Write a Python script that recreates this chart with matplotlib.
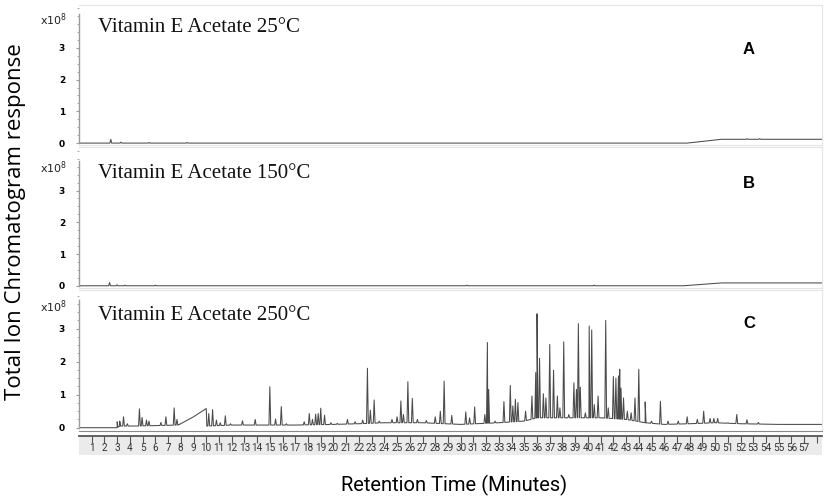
import numpy as np
import matplotlib
matplotlib.use("Agg")
import matplotlib.pyplot as plt
from matplotlib.ticker import MultipleLocator

# retention time axis (minutes)
t_max = 58.4
minute_ticks = list(range(1, 59))
minute_labels = [str(m) for m in range(1, 58)] + [""]

# response in units of 1e8
# panel A, 25 C: baseline (time, value) and peaks (time, height)
base_a_t = [0, 47.8, 50.5, 58.4]
base_a_v = [0.0, 0.0, 0.12, 0.12]
peaks_a_t = [2.5, 3.3, 5.5, 8.5, 52.5, 53.5]
peaks_a_h = [0.12, 0.03, 0.02, 0.02, 0.14, 0.14]

# panel B, 150 C
base_b_t = [0, 47.5, 50.5, 58.4]
base_b_v = [0.0, 0.0, 0.09, 0.09]
peaks_b_t = [2.4, 3.0, 3.6, 6.0, 30.5, 40.5]
peaks_b_h = [0.10, 0.03, 0.02, 0.02, 0.02, 0.02]

# panel C, 250 C
base_c_t = [0, 3.0, 3.2, 4.5, 7.8, 9.0, 10.0, 10.05, 12, 14, 17, 20, 22, 24,
            27, 30, 33, 35, 36, 41, 43, 44.5, 46, 48, 50, 52, 55, 58.4]
base_c_v = [0.0, 0.0, 0.05, 0.05, 0.08, 0.33, 0.58, 0.05, 0.08, 0.08, 0.08,
            0.1, 0.12, 0.15, 0.15, 0.1, 0.15, 0.2, 0.3, 0.3, 0.25, 0.15, 0.1,
            0.12, 0.15, 0.12, 0.1, 0.1]
peaks_c_t = [3.0, 3.2, 3.5, 3.8, 4.75, 4.96, 5.3, 5.5, 6.44, 6.83, 7.48, 7.7,
             10.2, 10.5, 10.8, 11.1, 11.5, 11.9, 12.85, 13.85, 15.0, 15.45,
             15.9, 16.3, 17.7, 18.1, 18.35, 18.6, 18.8, 19.0, 19.3, 19.8,
             20.3, 21.1, 21.7, 22.3, 22.67, 22.9, 23.2, 23.6, 24.6, 25.0,
             25.3, 25.5, 25.85, 26.2, 26.6, 27.3, 28.0, 28.4, 28.7, 29.3,
             30.4, 30.7, 31.1, 31.9, 32.1, 32.2, 32.7, 33.4, 33.9, 34.1,
             34.3, 34.5, 35.1, 35.6, 35.9, 36.0, 36.2, 36.5, 36.7, 37.0,
             37.3, 37.6, 37.8, 38.1, 38.5, 38.9, 39.1, 39.25, 39.4, 39.8,
             40.1, 40.15, 40.3, 40.5, 40.8, 41.4, 41.6, 42.0, 42.2, 42.4,
             42.5, 42.6, 42.8, 43.1, 43.4, 43.7, 44.0, 44.5, 45.0, 45.7,
             46.3, 47.1, 47.8, 48.6, 49.1, 49.6, 49.9, 50.2, 51.0, 51.7,
             52.5, 53.4]
peaks_c_h = [0.18, 0.2, 0.33, 0.12, 0.57, 0.31, 0.23, 0.2, 0.16, 0.33, 0.6,
             0.25, 0.43, 0.55, 0.23, 0.15, 0.36, 0.12, 0.21, 0.25, 1.24, 0.26,
             0.64, 0.12, 0.18, 0.43, 0.25, 0.41, 0.43, 0.59, 0.38, 0.15, 0.13,
             0.25, 0.18, 0.23, 1.8, 0.53, 0.84, 0.2, 0.25, 0.33, 0.81, 0.4,
             1.39, 0.89, 0.25, 0.22, 0.33, 0.5, 1.41, 0.37, 0.48, 0.3, 0.63,
             0.4, 2.58, 1.16, 0.2, 0.79, 1.28, 0.66, 0.86, 0.76, 0.5, 0.96,
             1.67, 3.45, 2.1, 1.03, 0.9, 2.52, 1.74, 0.96, 0.6, 2.6, 0.4, 1.36,
             1.16, 3.15, 1.23, 0.45, 3.08, 1.3, 2.96, 0.7, 0.96, 3.25, 0.6,
             1.55, 1.5, 1.57, 1.77, 1.2, 0.9, 0.5, 0.45, 0.9, 1.77, 0.78, 0.2,
             0.8, 0.2, 0.2, 0.33, 0.25, 0.5, 0.28, 0.28, 0.28, 0.15, 0.4, 0.24,
             0.16]

titles = ["Vitamin E Acetate 25°C", "Vitamin E Acetate 150°C", "Vitamin E Acetate 250°C"]
letters = ["A", "B", "C"]


def trace(bt, bv, pt, ph, w=0.07):
    xs = list(bt)
    ys = list(bv)
    for t, h in zip(pt, ph):
        for dt in (-w, w):
            xs.append(t + dt)
            ys.append(np.interp(t + dt, bt, bv))
        xs.append(t)
        ys.append(h)
    order = np.argsort(xs, kind="stable")
    return np.array(xs)[order], np.array(ys)[order]


fig = plt.figure(figsize=(8.29, 5.04), dpi=100)
W, H = 829, 504
left, right = 79, 822

# (box top px, box bottom px, ylim bottom, ylim top, x10 label y, title y px, letter y px)
panels = [
    (5, 145, -0.06, 4.35, 3.88, 28, 50),
    (147, 288, -0.07, 4.37, 3.72, 174, 183),
    (290, 431, -0.10, 4.17, 3.66, 315, 323),
]
data = [
    (base_a_t, base_a_v, peaks_a_t, peaks_a_h),
    (base_b_t, base_b_v, peaks_b_t, peaks_b_h),
    (base_c_t, base_c_v, peaks_c_t, peaks_c_h),
]

for i, (top, bot, y0, y1, xlab_y, ty, ly) in enumerate(panels):
    ax = fig.add_axes([left / W, 1 - bot / H, (right - left) / W, (bot - top) / H])
    x, y = trace(*data[i])
    ax.plot(x, y, color="#4a4a4a", lw=0.75)
    ax.set_xlim(0, t_max)
    ax.set_ylim(y0, y1)
    for s in ["top", "right", "bottom"]:
        ax.spines[s].set_color("#e4e4e4")
        ax.spines[s].set_linewidth(0.8)
    if i == 2:
        ax.spines["bottom"].set_color("#888888")
    ax.spines["left"].set_color("#9a9a9a")
    ax.spines["left"].set_linewidth(1.0)
    ax.spines["left"].set_bounds(0, xlab_y + 0.2)
    ax.set_xticks([])
    ax.set_yticks([0, 1, 2, 3])
    ax.yaxis.set_minor_locator(MultipleLocator(0.25))
    ax.tick_params(axis="y", which="major", length=2, color="#9a9a9a", pad=8,
                   labelsize=6.5)
    ax.tick_params(axis="y", which="minor", length=1.2, color="#9a9a9a")
    for lab in ax.get_yticklabels():
        lab.set_fontweight("bold")
    ax.annotate("x10$^{8}$", xy=(-0.034, xlab_y), xycoords=("axes fraction", "data"),
                ha="center", va="center", fontsize=8, color="#222222")
    fig.text(98 / W, 1 - ty / H, titles[i], family="Liberation Serif",
             fontsize=15, ha="left", va="center", color="#111111")
    fig.text(749 / W, 1 - ly / H, letters[i], family="Liberation Sans",
             fontweight="bold", fontsize=12, ha="center", va="center")

# time axis band
band = fig.add_axes([left / W, 1 - 455 / H, (right - left) / W, 19 / H])
band.set_facecolor("#ebebeb")
band.set_xlim(0, t_max)
band.set_ylim(0, 1)
for s in ["left", "right", "bottom"]:
    band.spines[s].set_visible(False)
band.spines["top"].set_color("#555555")
band.spines["top"].set_linewidth(1.3)
band.set_yticks([])
band.set_xticks(minute_ticks)
band.tick_params(axis="x", top=True, bottom=False, labelbottom=False,
                 direction="in", length=5, color="#555555", width=0.8)
for m, lab in zip(minute_ticks, minute_labels):
    band.text(m, 0.38, lab, ha="center", va="center", fontsize=7.2,
              family="Roboto", color="#333333")

fig.text(16 / W, 1 - 222 / H, "Total Ion Chromatogram response", rotation=90,
         family="Open Sans", fontsize=16, ha="center", va="center")
fig.text(454 / W, 1 - 485 / H, "Retention Time (Minutes)",
         family="Roboto", fontsize=14.5, ha="center", va="center")

fig.savefig("out.png", dpi=100)
